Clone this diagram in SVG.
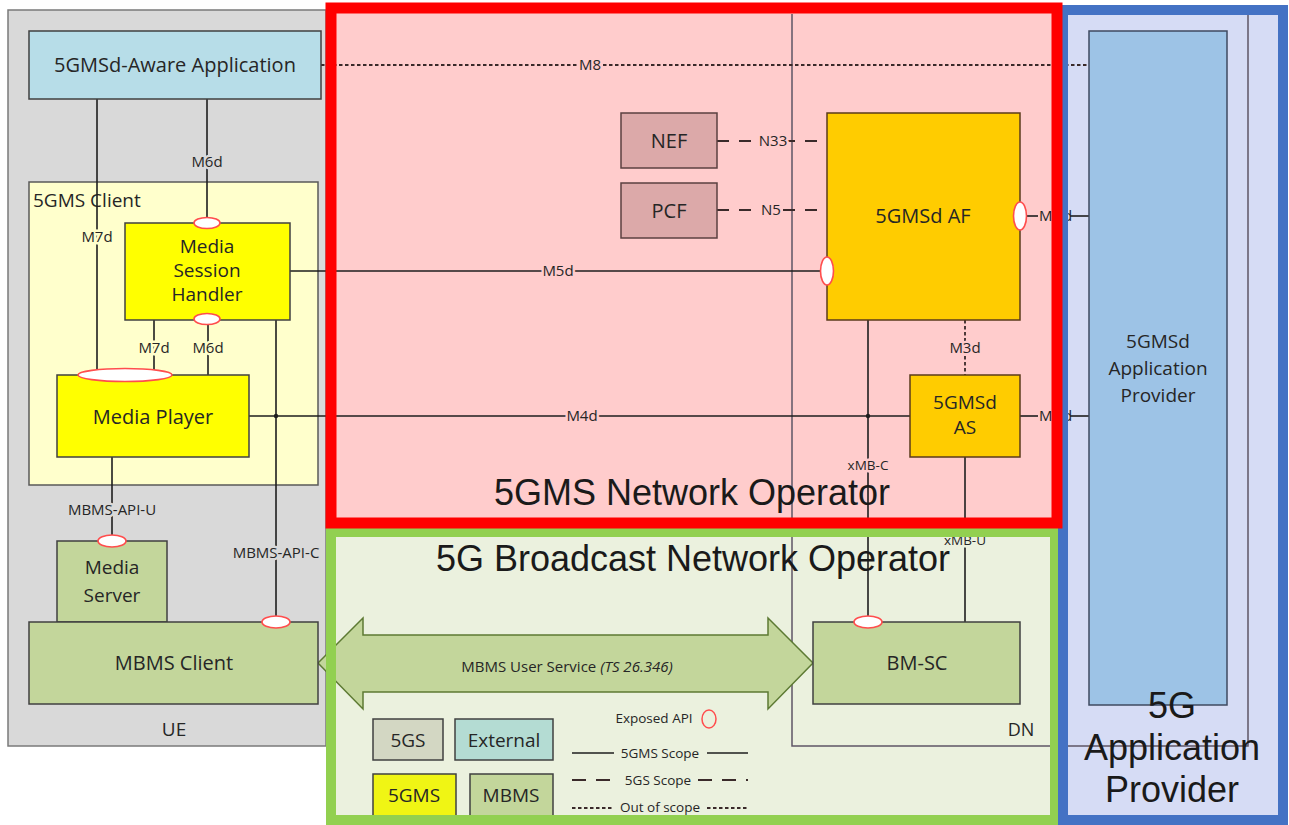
<svg xmlns="http://www.w3.org/2000/svg" width="1289" height="825" viewBox="0 0 1289 825">
<defs>
<style>
.t{font-family:"Open Sans","Noto Sans",sans-serif;fill:#262626;text-anchor:middle}
.n{font-size:20px}
.n2{font-size:19px}
.l{font-size:15px;paint-order:stroke;stroke-width:5px;stroke-linejoin:round}
.s{font-size:13.5px}
.gy{stroke:#d9d9d9}.yl{stroke:#ffffcc}.pk{stroke:#ffcccc}.gr{stroke:#ebf1de}
.big{font-family:"Liberation Sans",Arial,sans-serif;font-size:36px;fill:#1a1a1a;text-anchor:middle}
.c{stroke:#1e1e1e;stroke-width:1.6;fill:none}
.d{stroke:#3a2a2a;stroke-width:2;stroke-dasharray:12 10;fill:none}
.o{stroke:#3a2a2a;stroke-width:1.8;stroke-dasharray:3.5 2.5;fill:none}
.api{fill:#fff;stroke:#ff4d4d;stroke-width:1.6}
.box{stroke:#404040;stroke-width:1.5}
</style>
</defs>
<rect x="0" y="0" width="1289" height="825" fill="#ffffff"/>

<!-- region fills -->
<g id="region-fills">
<rect id="ue-fill" x="8" y="10" width="318" height="736" fill="#d9d9d9" stroke="#7a7a7a" stroke-width="1.5"/>
<rect x="331" y="8" width="726" height="515" fill="#ffcccc"/>
<rect x="331" y="532" width="724" height="288" fill="#ebf1de"/>
<rect x="1063" y="10" width="220" height="810" fill="#d6dcf5"/>
</g>

<!-- DN -->
<g id="dn">
<path d="M792,14 V746 H1248 V14" fill="none" stroke="#5f5666" stroke-width="1.5"/>
<text class="t" x="1021" y="736" font-size="18">DN</text>
</g>

<!-- 5GMS Client container -->
<g id="client">
<rect x="29" y="182" width="289" height="303" fill="#ffffcc" stroke="#595959" stroke-width="1.5"/>
<text class="t" x="33" y="207" font-size="19" style="text-anchor:start">5GMS Client</text>
</g>

<!-- MBMS arrow -->
<g id="mbms-user-service">
<polygon points="318,663 363,618 363,635 768,635 768,618 813,663 768,709 768,692 363,692 363,709" fill="#c3d69b" stroke="#5d7a33" stroke-width="1.5"/>
<text class="t" x="567" y="672" font-size="15">MBMS User Service <tspan font-style="italic">(TS 26.346)</tspan></text>
</g>

<!-- connectors -->
<g id="connectors">
<line class="c" x1="97" y1="99" x2="97" y2="370"/>
<line class="c" x1="207" y1="99" x2="207" y2="218"/>
<line class="c" x1="154" y1="320" x2="154" y2="370"/>
<line class="c" x1="208" y1="324" x2="208" y2="375"/>
<line class="c" x1="290" y1="271" x2="821" y2="271"/>
<line class="c" x1="249" y1="416" x2="910" y2="416"/>
<line class="c" x1="276" y1="320" x2="276" y2="616"/>
<line class="c" x1="112" y1="457" x2="112" y2="535"/>
<line class="o" x1="321" y1="65" x2="1089" y2="65"/>
<line class="d" x1="717" y1="141" x2="827" y2="141"/>
<line class="d" x1="717" y1="210" x2="827" y2="210"/>
<line class="c" x1="868" y1="320" x2="868" y2="616"/>
<line class="o" x1="965" y1="320" x2="965" y2="375"/>
<line class="c" x1="965" y1="457" x2="965" y2="622"/>
<line class="c" x1="1026" y1="216" x2="1038" y2="216"/>
<line class="c" x1="1070" y1="216" x2="1089" y2="216"/>
<line class="c" x1="1020" y1="416" x2="1038" y2="416"/>
<line class="c" x1="1070" y1="416" x2="1089" y2="416"/>
<circle cx="276" cy="416" r="2.2" fill="#1e1e1e"/>
<circle cx="868" cy="416" r="2.2" fill="#1e1e1e"/>
<text class="t l yl" x="97" y="242">M7d</text>
<text class="t l gy" x="207" y="167">M6d</text>
<text class="t l yl" x="154" y="353">M7d</text>
<text class="t l yl" x="208" y="353">M6d</text>
<text class="t l pk" x="558" y="276">M5d</text>
<text class="t l pk" x="582" y="421">M4d</text>
<text class="t l pk" x="590" y="70">M8</text>
<text class="t l pk" x="773" y="146">N33</text>
<text class="t l pk" x="771" y="215">N5</text>
<text class="t l pk" x="965" y="353">M3d</text>
<text class="t l pk s" x="868" y="470">xMB-C</text>
<text class="t l gr s" x="965" y="545">xMB-U</text>
<text class="t l gy" x="112" y="515">MBMS-API-U</text>
<text class="t l gy" x="276" y="558">MBMS-API-C</text>
<text class="t" x="1039" y="221" font-size="15" letter-spacing="1" style="text-anchor:start">M1d</text>
<text class="t" x="1039" y="421" font-size="15" letter-spacing="1" style="text-anchor:start">M2d</text>
</g>

<!-- nodes -->
<g id="aware-app">
<rect class="box" x="29" y="31" width="292" height="68" fill="#b7dde8"/>
<text class="t n" x="175" y="72">5GMSd-Aware Application</text>
</g>
<g id="media-session-handler">
<rect class="box" x="125" y="223" width="165" height="97" fill="#ffff00"/>
<text class="t n2" x="207" y="253">Media</text>
<text class="t n2" x="207" y="277">Session</text>
<text class="t n2" x="207" y="301">Handler</text>
<ellipse class="api" cx="207" cy="223" rx="13" ry="5.5"/>
<ellipse class="api" cx="207" cy="319" rx="13" ry="5.5"/>
</g>
<g id="media-player">
<rect class="box" x="57" y="375" width="192" height="82" fill="#ffff00"/>
<text class="t n" x="153" y="424">Media Player</text>
<ellipse class="api" cx="125" cy="375" rx="47" ry="6.5"/>
</g>
<g id="media-server">
<rect class="box" x="57" y="541" width="110" height="81" fill="#c3d69b"/>
<text class="t n2" x="112" y="574">Media</text>
<text class="t n2" x="112" y="602">Server</text>
<ellipse class="api" cx="112" cy="541" rx="14" ry="6"/>
</g>
<g id="mbms-client">
<rect class="box" x="29" y="622" width="289" height="82" fill="#c3d69b"/>
<text class="t n" x="174" y="670">MBMS Client</text>
<ellipse class="api" cx="276" cy="622" rx="14" ry="6"/>
<text class="t" x="174" y="736" font-size="19">UE</text>
</g>
<g id="nef">
<rect x="621" y="113" width="96" height="55" fill="#dca9a9" stroke="#5b4040" stroke-width="1.5"/>
<text class="t n" x="669" y="148">NEF</text>
</g>
<g id="pcf">
<rect x="621" y="183" width="96" height="55" fill="#dca9a9" stroke="#5b4040" stroke-width="1.5"/>
<text class="t n" x="669" y="218">PCF</text>
</g>
<g id="af">
<rect x="827" y="113" width="193" height="207" fill="#ffcc00" stroke="#5b3b1b" stroke-width="1.5"/>
<text class="t n" x="923" y="223">5GMSd AF</text>
<ellipse class="api" cx="827" cy="271" rx="6.5" ry="14"/>
<ellipse class="api" cx="1020" cy="216" rx="6.5" ry="14"/>
</g>
<g id="as">
<rect x="910" y="375" width="110" height="82" fill="#ffcc00" stroke="#5b3b1b" stroke-width="1.5"/>
<text class="t n2" x="965" y="409">5GMSd</text>
<text class="t n2" x="965" y="434">AS</text>
</g>
<g id="bmsc">
<rect class="box" x="813" y="622" width="207" height="82" fill="#c3d69b"/>
<text class="t n" x="917" y="670">BM-SC</text>
<ellipse class="api" cx="868" cy="622" rx="14" ry="6"/>
</g>
<g id="app-provider">
<rect x="1089" y="31" width="138" height="674" fill="#9dc3e6" stroke="#3f4a60" stroke-width="1.5"/>
<text class="t" x="1158" y="348" font-size="19">5GMSd</text>
<text class="t" x="1158" y="375" font-size="19">Application</text>
<text class="t" x="1158" y="402" font-size="19">Provider</text>
</g>

<!-- legend -->
<g id="legend">
<rect class="box" x="373" y="719" width="70" height="41" fill="#d3d7c3"/>
<text class="t" x="408" y="747" font-size="19">5GS</text>
<rect class="box" x="455" y="719" width="98" height="41" fill="#b4dcd3"/>
<text class="t" x="504" y="747" font-size="19">External</text>
<rect class="box" x="373" y="774" width="83" height="44" fill="#f0f514"/>
<text class="t" x="414" y="802" font-size="19">5GMS</text>
<rect class="box" x="470" y="774" width="83" height="44" fill="#c3d69b"/>
<text class="t" x="511" y="802" font-size="19">MBMS</text>
<text class="t s" x="654" y="723">Exposed API</text>
<ellipse cx="709" cy="719" rx="7" ry="9" fill="none" stroke="#ff4d4d" stroke-width="1.5"/>
<line class="c" x1="572" y1="753" x2="614" y2="753"/>
<line class="c" x1="707" y1="753" x2="748" y2="753"/>
<text class="t s" x="660" y="758">5GMS Scope</text>
<line class="d" x1="572" y1="780" x2="618" y2="780" style="stroke-dasharray:14 10"/>
<line class="d" x1="698" y1="780" x2="748" y2="780" style="stroke-dasharray:14 10"/>
<text class="t s" x="658" y="785">5GS Scope</text>
<line class="o" x1="572" y1="808" x2="613" y2="808"/>
<line class="o" x1="707" y1="808" x2="748" y2="808"/>
<text class="t s" x="660" y="812">Out of scope</text>
</g>

<!-- region borders & labels -->
<g id="region-green">
<rect x="331" y="532" width="724" height="288" fill="none" stroke="#92d050" stroke-width="10"/>
<text class="big" x="693" y="571">5G Broadcast Network Operator</text>
</g>
<g id="region-blue">
<rect x="1063" y="10" width="220" height="810" fill="none" stroke="#4472c4" stroke-width="10"/>
<text class="big" x="1172" y="718" font-size="34">5G</text>
<text class="big" x="1172" y="760" font-size="34">Application</text>
<text class="big" x="1172" y="802" font-size="34">Provider</text>
</g>
<g id="region-red">
<rect x="331" y="8" width="726" height="515" fill="none" stroke="#ff0000" stroke-width="11"/>
<text class="big" x="692" y="505">5GMS Network Operator</text>
</g>
</svg>
